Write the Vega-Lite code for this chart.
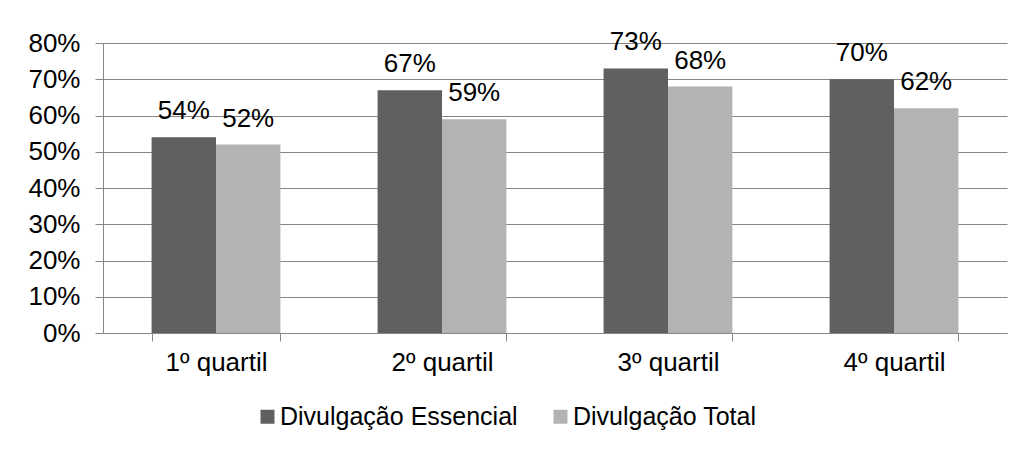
{
  "$schema": "https://vega.github.io/schema/vega-lite/v6.json",
  "width": 904,
  "height": 290,
  "autosize": {"type": "none"},
  "padding": {"left": 103, "top": 43, "right": 15, "bottom": 118},
  "background": "white",
  "config": {
    "font": "Liberation Sans",
    "view": {"stroke": null},
    "axis": {"labelFont": "Liberation Sans", "labelFontSize": 26, "labelColor": "#000000"}
  },
  "data": {
    "values": [
      {"quartil": "1º quartil", "serie": "Divulgação Essencial", "valor": 0.54},
      {"quartil": "1º quartil", "serie": "Divulgação Total", "valor": 0.52},
      {"quartil": "2º quartil", "serie": "Divulgação Essencial", "valor": 0.67},
      {"quartil": "2º quartil", "serie": "Divulgação Total", "valor": 0.59},
      {"quartil": "3º quartil", "serie": "Divulgação Essencial", "valor": 0.73},
      {"quartil": "3º quartil", "serie": "Divulgação Total", "valor": 0.68},
      {"quartil": "4º quartil", "serie": "Divulgação Essencial", "valor": 0.70},
      {"quartil": "4º quartil", "serie": "Divulgação Total", "valor": 0.62}
    ]
  },
  "encoding": {
    "x": {
      "field": "quartil", "type": "nominal", "sort": null,
      "scale": {"paddingInner": 0.43, "paddingOuter": 0.215},
      "axis": {
        "title": null, "labelAngle": 0, "domainColor": "#878787", "tickColor": "#878787",
        "tickSize": 8, "tickBand": "extent", "labelPadding": 8, "grid": false
      }
    },
    "xOffset": {"field": "serie", "type": "nominal", "sort": ["Divulgação Essencial", "Divulgação Total"], "scale": {"paddingInner": 0}},
    "y": {
      "field": "valor", "type": "quantitative",
      "scale": {"domain": [0, 0.8], "nice": false},
      "axis": {
        "title": null, "format": ".0%", "values": [0, 0.1, 0.2, 0.3, 0.4, 0.5, 0.6, 0.7, 0.8],
        "grid": true, "gridColor": "#878787", "gridOpacity": 1, "domainColor": "#878787",
        "tickColor": "#878787", "tickSize": 8, "labelPadding": 15
      }
    }
  },
  "layer": [
    {
      "mark": {"type": "bar"},
      "encoding": {
        "color": {
          "field": "serie", "type": "nominal",
          "scale": {"domain": ["Divulgação Essencial", "Divulgação Total"], "range": ["#606060", "#b3b3b3"]},
          "legend": {
            "title": null, "orient": "none", "direction": "horizontal",
            "legendX": 152, "legendY": 361,
            "symbolType": "square", "symbolSize": 196, "symbolStrokeWidth": 0,
            "labelFontSize": 25, "labelFont": "Liberation Sans", "labelColor": "#000000",
            "labelLimit": 0, "labelOffset": 0, "columnPadding": 30, "padding": 0
          }
        }
      }
    },
    {
      "mark": {"type": "text", "baseline": "alphabetic", "dy": -18, "fontSize": 26, "font": "Liberation Sans", "color": "#000000"},
      "encoding": {
        "text": {"field": "valor", "type": "quantitative", "format": ".0%"}
      }
    }
  ]
}
